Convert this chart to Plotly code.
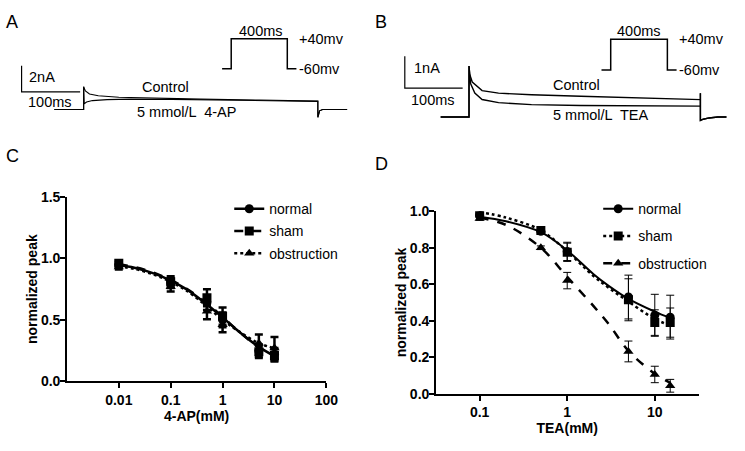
import plotly.graph_objects as go

W, H = 745, 451
FONT = "Arial, 'Liberation Sans', sans-serif"

# ---- panel A: current traces (ms, nA) ----
a_ctrl_t = [-50, 0, 0, 3, 10, 25, 60, 120, 200, 300, 400, 400, 403, 408, 450]
a_ctrl_i = [0, 0, 1.75, 1.43, 1.2, 1.06, 0.95, 0.87, 0.8, 0.73, 0.65, -0.6, -0.1, 0, 0]
a_4ap_t = [-50, 0, 0, 1, 5, 15, 40, 80, 150, 250, 400, 400, 403, 408, 450]
a_4ap_i = [0, 0, 1.75, 0.45, 0.58, 0.69, 0.76, 0.8, 0.78, 0.72, 0.63, -0.6, -0.1, 0, 0]

# ---- panel B: current traces (ms, nA) ----
b_ctrl_t = [-49, 0, 0, 1, 5.6, 22.6, 51, 108, 193, 300, 400, 400, 400, 405, 415, 430, 445]
b_ctrl_i = [0, 0, 1.6, 1.35, 1.1, 0.83, 0.75, 0.7, 0.65, 0.6, 0.545, 0.75, -0.11, -0.07, -0.03, 0, 0]
b_tea_t = [-49, 0, 0, 1, 2.7, 10, 22.6, 51, 108, 193, 300, 400, 400, 400, 405, 415, 430, 445]
b_tea_i = [0, 0, 1.6, 1.3, 1.05, 0.75, 0.55, 0.45, 0.39, 0.36, 0.35, 0.34, 0.75, -0.11, -0.07, -0.03, 0, 0]

# voltage protocol (ms, mV)
prot_t = [-65, 0, 0, 400, 400, 465]
prot_v = [-60, -60, 40, 40, -60, -60]

# ---- panel C: 4-AP dose response ----
c_conc = [0.01, 0.1, 0.5, 1, 5, 10]
c_normal = [0.95, 0.80, 0.64, 0.50, 0.25, 0.22]
c_normal_err = [0.02, 0.04, 0.06, 0.06, 0.05, 0.05]
c_sham = [0.96, 0.81, 0.68, 0.53, 0.24, 0.21]
c_sham_err = [0.02, 0.045, 0.07, 0.07, 0.05, 0.05]
c_obst = [0.93, 0.77, 0.57, 0.46, 0.31, 0.27]
c_obst_err = [0.02, 0.04, 0.065, 0.06, 0.07, 0.09]
c_fit_x = [0.01, 0.02, 0.05, 0.1, 0.2, 0.5, 1, 2, 5, 10]
c_fit_normal = [0.945, 0.925, 0.875, 0.82, 0.75, 0.625, 0.52, 0.41, 0.28, 0.205]
c_fit_sham = [0.95, 0.93, 0.88, 0.825, 0.755, 0.635, 0.525, 0.41, 0.275, 0.2]
c_fit_obst = [0.935, 0.915, 0.865, 0.81, 0.74, 0.61, 0.50, 0.41, 0.31, 0.27]

# ---- panel D: TEA dose response ----
d_conc = [0.1, 0.5, 1, 5, 10, 15]
d_normal = [0.975, 0.89, 0.78, 0.53, 0.43, 0.42]
d_normal_err = [0.01, 0.01, 0.05, 0.12, 0.115, 0.12]
d_sham = [0.995, 0.895, 0.775, 0.515, 0.39, 0.39]
d_sham_err = [0.01, 0.01, 0.05, 0.115, 0.07, 0.08]
d_obst = [0.96, 0.80, 0.62, 0.232, 0.106, 0.044]
d_obst_err = [0.01, 0.01, 0.045, 0.057, 0.045, 0.035]
d_fit_x = [0.1, 0.2, 0.5, 1, 2, 3, 5, 10, 15]
d_fit_normal = [0.97, 0.945, 0.885, 0.785, 0.655, 0.59, 0.52, 0.45, 0.415]
d_fit_sham = [0.995, 0.965, 0.895, 0.78, 0.645, 0.58, 0.505, 0.41, 0.375]
d_fit_obst = [0.965, 0.925, 0.80, 0.64, 0.48, 0.38, 0.235, 0.11, 0.06]


# window pixel -> paper fraction
def px_x(p):
    return p / W


def px_y(p):
    return 1 - p / H


fig = go.Figure()
blk = "black"

# top traces
for t, i in [(a_ctrl_t, a_ctrl_i), (a_4ap_t, a_4ap_i)]:
    fig.add_trace(go.Scatter(x=t, y=i, mode="lines", line=dict(color=blk, width=1.1),
                             xaxis="x3", yaxis="y3", showlegend=False, hoverinfo="skip"))
for t, i in [(b_ctrl_t, b_ctrl_i), (b_tea_t, b_tea_i)]:
    fig.add_trace(go.Scatter(x=t, y=i, mode="lines", line=dict(color=blk, width=1.4),
                             xaxis="x4", yaxis="y4", showlegend=False, hoverinfo="skip"))
# scale bars
fig.add_trace(go.Scatter(x=[-106, -106, -6], y=[3.36, 1.36, 1.36], mode="lines",
                         line=dict(color=blk, width=1.2), xaxis="x3", yaxis="y3",
                         showlegend=False, hoverinfo="skip"))
fig.add_trace(go.Scatter(x=[-111, -111, -11], y=[1.91, 0.91, 0.91], mode="lines",
                         line=dict(color=blk, width=1.2), xaxis="x4", yaxis="y4",
                         showlegend=False, hoverinfo="skip"))
# protocols
for xa, ya in [("x5", "y5"), ("x6", "y6")]:
    fig.add_trace(go.Scatter(x=prot_t, y=prot_v, mode="lines", line=dict(color=blk, width=1.5),
                             xaxis=xa, yaxis=ya, showlegend=False, hoverinfo="skip"))

# dose response panels
series = [
    ("x", "y", "legend", 2.5, 9,
     [("normal", "circle", "solid", c_normal, c_normal_err, c_fit_normal),
      ("sham", "square", "dash", c_sham, c_sham_err, c_fit_sham),
      ("obstruction", "triangle-up", "dot", c_obst, c_obst_err, c_fit_obst)],
     c_conc, c_fit_x),
    ("x2", "y2", "legend2", 1.0, 9,
     [("normal", "circle", "solid", d_normal, d_normal_err, d_fit_normal),
      ("sham", "square", "dot", d_sham, d_sham_err, d_fit_sham),
      ("obstruction", "triangle-up", "dash", d_obst, d_obst_err, d_fit_obst)],
     d_conc, d_fit_x),
]
for xa, ya, lg, ethick, msize, items, conc, fitx in series:
    for name, sym, dash, vals, errs, fit in items:
        lw = 2.0 if (dash == "solid" and xa == "x2") else 2.5
        fig.add_trace(go.Scatter(x=fitx, y=fit, mode="lines", line=dict(color=blk, width=lw, dash=dash,
                                 shape="spline"), xaxis=xa, yaxis=ya, showlegend=False, hoverinfo="skip"))
        fig.add_trace(go.Scatter(x=conc, y=vals, mode="markers",
                                 marker=dict(symbol=sym, size=msize, color=blk),
                                 error_y=dict(type="data", array=errs, color=blk, thickness=ethick, width=4),
                                 xaxis=xa, yaxis=ya, showlegend=False))
        fig.add_trace(go.Scatter(x=[None], y=[None], mode="lines+markers", name=name,
                                 marker=dict(symbol=sym, size=msize, color=blk),
                                 line=dict(color=blk, width=lw, dash=dash),
                                 xaxis=xa, yaxis=ya, legend=lg, legendgroup=lg + name))

axis_common = dict(showline=True, linecolor=blk, linewidth=1.5, ticks="outside", ticklen=5,
                   tickwidth=1.5, tickcolor=blk, showgrid=False, zeroline=False,
                   tickfont=dict(family=FONT, size=14, color=blk, weight="bold"))
title_font = dict(family=FONT, size=14, color=blk, weight="bold")
hidden = dict(visible=False, showgrid=False, zeroline=False)

fig.update_layout(
    width=W, height=H, margin=dict(l=0, r=0, t=0, b=0),
    paper_bgcolor="white", plot_bgcolor="white",
    font=dict(family=FONT, size=14, color=blk),
    xaxis=dict(type="log", range=[-3, 2], domain=[px_x(68), px_x(331.7)], anchor="y",
               tickvals=[0.01, 0.1, 1, 10, 100], ticktext=["0.01", "0.1", "1", "10", "100"],
               title=dict(text="4-AP(mM)", font=title_font, standoff=4), **axis_common),
    yaxis=dict(range=[0, 1.5], domain=[px_y(387), px_y(196)], anchor="x",
               tickvals=[0, 0.5, 1.0, 1.5], ticktext=["0.0", "0.5", "1.0", "1.5"], ticklabelstandoff=-3,
               title=dict(text="normalized peak", font=title_font, standoff=0), **axis_common),
    xaxis2=dict(type="log", range=[-1.5, 1.5], domain=[px_x(443), px_x(710)], anchor="y2",
                tickvals=[0.1, 1, 10], ticktext=["0.1", "1", "10"],
                title=dict(text="TEA(mM)", font=title_font, standoff=4), **axis_common),
    yaxis2=dict(range=[0, 1.0], domain=[px_y(400), px_y(210.7)], anchor="x2",
                tickvals=[0, 0.2, 0.4, 0.6, 0.8, 1.0], ticklabelstandoff=-3,
                ticktext=["0.0", "0.2", "0.4", "0.6", "0.8", "1.0"],
                title=dict(text="normalized peak", font=title_font, standoff=0), **axis_common),
    xaxis3=dict(range=[-120, 470], domain=[px_x(13.6), px_x(364.7)], anchor="y3", **hidden),
    yaxis3=dict(range=[-1.46, 6.32], domain=[px_y(125), px_y(20)], anchor="x3", **hidden),
    xaxis4=dict(range=[-125, 455], domain=[px_x(403.2), px_x(744.2)], anchor="y4", **hidden),
    yaxis4=dict(range=[-0.364, 2.82], domain=[px_y(125), px_y(20)], anchor="x4", **hidden),
    xaxis5=dict(range=[-100, 500], domain=[px_x(220.75), px_x(306.25)], anchor="y5", **hidden),
    yaxis5=dict(range=[-80, 60], domain=[px_y(69.2), px_y(25.8)], anchor="x5", **hidden),
    xaxis6=dict(range=[-100, 500], domain=[px_x(606.3), px_x(692.7)], anchor="y6", **hidden),
    yaxis6=dict(range=[-80, 60], domain=[px_y(70.7), px_y(25.9)], anchor="x6", **hidden),
    legend=dict(x=px_x(233), y=px_y(192), xanchor="left", yanchor="top", bgcolor="rgba(0,0,0,0)",
                font=dict(family=FONT, size=14, color=blk), tracegroupgap=1, traceorder="grouped",
                itemwidth=30),
    legend2=dict(x=px_x(608), y=px_y(192), xanchor="left", yanchor="top", bgcolor="rgba(0,0,0,0)",
                 font=dict(family=FONT, size=14, color=blk), tracegroupgap=6, traceorder="grouped",
                 itemwidth=30),
)

txt = dict(family=FONT, size=14.5, color=blk)
big = dict(family=FONT, size=18, color=blk)
ann = [
    # panel letters
    dict(text="A", x=px_x(12), y=px_y(15), xref="paper", yref="paper", font=big),
    dict(text="B", x=px_x(387), y=px_y(15), xref="paper", yref="paper", font=big),
    dict(text="C", x=px_x(13), y=px_y(153), xref="paper", yref="paper", font=big),
    dict(text="D", x=px_x(388), y=px_y(162), xref="paper", yref="paper", font=big),
    # panel A labels
    dict(text="2nA", x=-96, y=2.47, xref="x3", yref="y3", xanchor="left", font=txt),
    dict(text="100ms", x=-99, y=0.61, xref="x3", yref="y3", xanchor="left", font=txt),
    dict(text="Control", x=139, y=1.73, xref="x3", yref="y3", font=txt),
    dict(text="5 mmol/L  4-AP", x=176, y=-0.2, xref="x3", yref="y3", font=txt),
    dict(text="400ms", x=215, y=40, xref="x5", yref="y5", yanchor="bottom", yshift=-2, font=txt),
    dict(text="+40mv", x=470, y=40, xref="x5", yref="y5", xanchor="left", font=txt),
    dict(text="-60mv", x=470, y=-60, xref="x5", yref="y5", xanchor="left", font=txt),
    # panel B labels
    dict(text="1nA", x=-98, y=1.55, xref="x4", yref="y4", xanchor="left", font=txt),
    dict(text="100ms", x=-104, y=0.545, xref="x4", yref="y4", xanchor="left", font=txt),
    dict(text="Control", x=186, y=1.0, xref="x4", yref="y4", font=txt),
    dict(text="5 mmol/L  TEA", x=227, y=0.06, xref="x4", yref="y4", font=txt),
    dict(text="400ms", x=197, y=40, xref="x6", yref="y6", yanchor="bottom", yshift=-2, font=txt),
    dict(text="+40mv", x=465, y=40, xref="x6", yref="y6", xanchor="left", font=txt),
    dict(text="-60mv", x=465, y=-60, xref="x6", yref="y6", xanchor="left", font=txt),
]
for a in ann:
    a["showarrow"] = False
    a.setdefault("xanchor", "center")
    a.setdefault("yanchor", "middle")
fig.update_layout(annotations=ann)

# page has default body margin; drop it so the 745x451 figure fills the window
fig.write_html("out.html", config={"displayModeBar": False},
               post_script="document.body.style.margin='0';"
                           "document.documentElement.style.overflow='hidden';")
